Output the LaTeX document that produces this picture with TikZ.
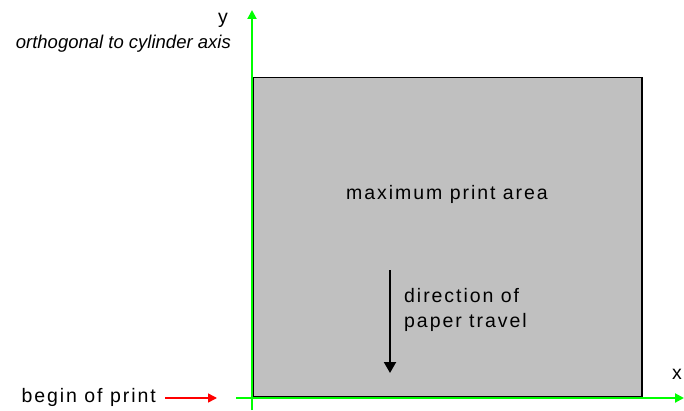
\documentclass[tikz,border=0pt]{standalone}
\usepackage{fontspec}
\setmainfont{Liberation Sans}
\newfontfamily\spaced[LetterSpace=10]{Liberation Sans}
\usetikzlibrary{arrows.meta}
\definecolor{areagray}{HTML}{C0C0C0}
\definecolor{axisgreen}{HTML}{00FF00}
\definecolor{printred}{HTML}{FF0000}
\tikzset{
  lbl/.style={font=\spaced\fontsize{19.5}{22}\selectfont, inner sep=0pt},
  axis/.style={draw=axisgreen, line width=2pt, -{Triangle[length=9pt,width=9pt]}},
  area/.style={draw=black, line width=1.5pt, fill=areagray},
}
\begin{document}
\begin{tikzpicture}[x=1pt,y=-1pt]
\useasboundingbox (0,0) rectangle (684,411);
\node[area, minimum width=389pt, minimum height=319pt, inner sep=0pt, anchor=north west] (area) at (252,77) {};
\coordinate (yfoot) at (252,410);
\coordinate (ytip) at (252,10);
\coordinate (xfoot) at (236,398);
\coordinate (xtip) at (684,398);
\draw[axis] (yfoot) -- (ytip);
\draw[axis] (xfoot) -- (xtip);
\node[lbl] (ylbl) at (223,20) {y};
\node[lbl, anchor=east, font=\itshape\fontsize{18.5}{20}\selectfont] (ortho) at (231,44) {orthogonal to cylinder axis};
\node[lbl] (xlbl) at (677,374) {x};
\node[lbl] (maxarea) at (447,194) {maximum print area};
\coordinate (dtop) at (390,270);
\coordinate (dbot) at (390,373);
\draw[line width=2pt, -{Triangle[length=11pt,width=12pt]}] (dtop) -- (dbot);
\node[lbl, anchor=west, align=left] (dir) at (404,310) {direction of\\[3pt]paper travel};
\node[lbl, anchor=east] (begin) at (156,397) {begin of print};
\coordinate (rs) at (165,398);
\coordinate (re) at (217,398);
\draw[draw=printred, line width=1.5pt, -{Triangle[length=9pt,width=9pt]}] (rs) -- (re);
\end{tikzpicture}
\end{document}
